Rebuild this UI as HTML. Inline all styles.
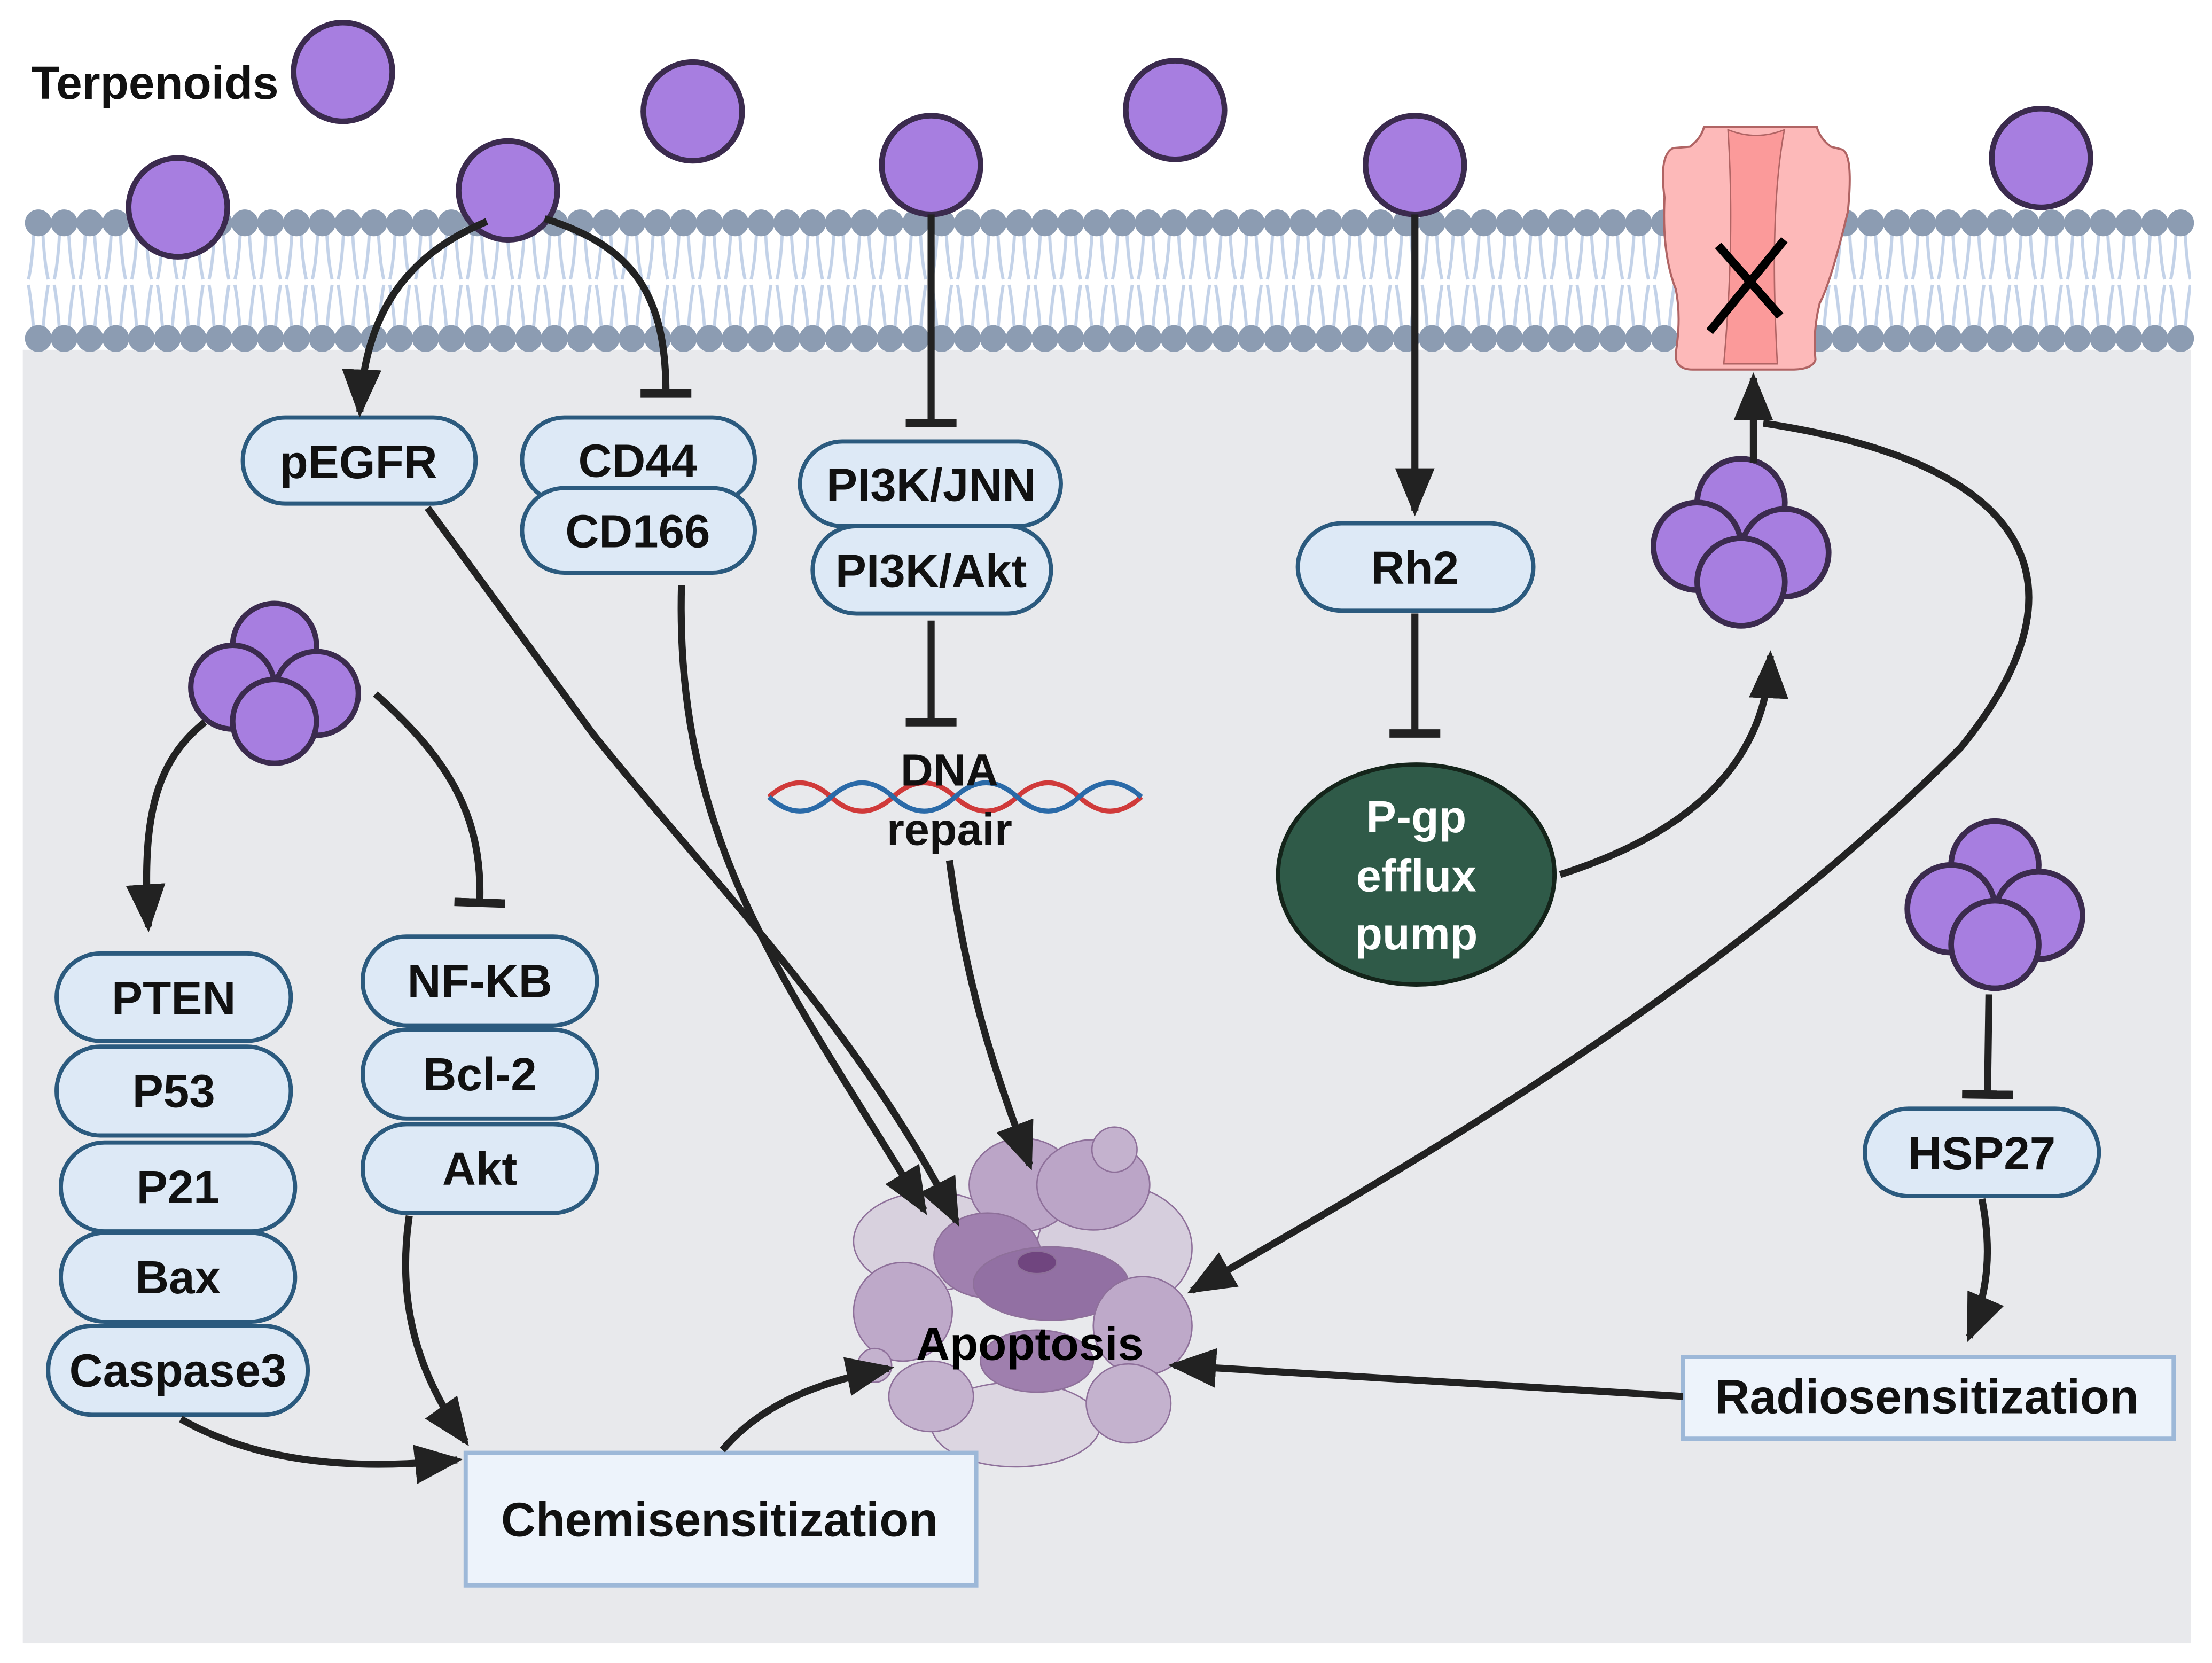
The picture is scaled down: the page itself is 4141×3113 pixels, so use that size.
<!DOCTYPE html>
<html><head><meta charset="utf-8"><style>html,body{margin:0;padding:0;background:#fff}svg{display:block}</style></head>
<body>
<svg xmlns="http://www.w3.org/2000/svg" width="4141" height="3113" viewBox="0 0 1568 1179" font-family="Liberation Sans, sans-serif" font-weight="bold">
<defs>
<marker id="ar" markerUnits="userSpaceOnUse" markerWidth="34" markerHeight="34" viewBox="0 0 34 34" refX="30" refY="17" orient="auto"><path d="M0,3 L34,17 L0,31 Z" fill="#222"/></marker>
<marker id="tb" markerUnits="userSpaceOnUse" markerWidth="10" markerHeight="40" viewBox="0 0 10 40" refX="3" refY="20" orient="auto"><rect x="0" y="2" width="6" height="36" fill="#222"/></marker>
<pattern id="mem" x="18" y="150" width="18.3" height="100" patternUnits="userSpaceOnUse">
<path d="M6,160 Q5,185 2,198 M12,160 Q13,185 16,198 M2,202 Q5,220 6,240 M16,202 Q13,220 12,240" transform="translate(0,-150)" stroke="#c3d2e8" stroke-width="2.2" fill="none"/>
</pattern>
<g id="cl"><circle cx="-5" cy="-25" r="27"/><circle cx="-32" cy="2" r="27"/><circle cx="22" cy="6" r="27"/><circle cx="-5" cy="24" r="27"/></g>
<g id="hrow" fill="#8c9cb2">
<circle cx="27" cy="0" r="9.5"/><circle cx="45.3" cy="0" r="9.5"/><circle cx="63.6" cy="0" r="9.5"/><circle cx="81.9" cy="0" r="9.5"/><circle cx="100.2" cy="0" r="9.5"/><circle cx="118.5" cy="0" r="9.5"/><circle cx="136.8" cy="0" r="9.5"/><circle cx="155.1" cy="0" r="9.5"/><circle cx="173.4" cy="0" r="9.5"/><circle cx="191.7" cy="0" r="9.5"/>
<circle cx="210" cy="0" r="9.5"/><circle cx="228.3" cy="0" r="9.5"/><circle cx="246.6" cy="0" r="9.5"/><circle cx="264.9" cy="0" r="9.5"/><circle cx="283.2" cy="0" r="9.5"/><circle cx="301.5" cy="0" r="9.5"/><circle cx="319.8" cy="0" r="9.5"/><circle cx="338.1" cy="0" r="9.5"/><circle cx="356.4" cy="0" r="9.5"/><circle cx="374.7" cy="0" r="9.5"/>
<circle cx="393" cy="0" r="9.5"/><circle cx="411.3" cy="0" r="9.5"/><circle cx="429.6" cy="0" r="9.5"/><circle cx="447.9" cy="0" r="9.5"/><circle cx="466.2" cy="0" r="9.5"/><circle cx="484.5" cy="0" r="9.5"/><circle cx="502.8" cy="0" r="9.5"/><circle cx="521.1" cy="0" r="9.5"/><circle cx="539.4" cy="0" r="9.5"/><circle cx="557.7" cy="0" r="9.5"/>
<circle cx="576" cy="0" r="9.5"/><circle cx="594.3" cy="0" r="9.5"/><circle cx="612.6" cy="0" r="9.5"/><circle cx="630.9" cy="0" r="9.5"/><circle cx="649.2" cy="0" r="9.5"/><circle cx="667.5" cy="0" r="9.5"/><circle cx="685.8" cy="0" r="9.5"/><circle cx="704.1" cy="0" r="9.5"/><circle cx="722.4" cy="0" r="9.5"/><circle cx="740.7" cy="0" r="9.5"/>
<circle cx="759" cy="0" r="9.5"/><circle cx="777.3" cy="0" r="9.5"/><circle cx="795.6" cy="0" r="9.5"/><circle cx="813.9" cy="0" r="9.5"/><circle cx="832.2" cy="0" r="9.5"/><circle cx="850.5" cy="0" r="9.5"/><circle cx="868.8" cy="0" r="9.5"/><circle cx="887.1" cy="0" r="9.5"/><circle cx="905.4" cy="0" r="9.5"/><circle cx="923.7" cy="0" r="9.5"/>
<circle cx="942" cy="0" r="9.5"/><circle cx="960.3" cy="0" r="9.5"/><circle cx="978.6" cy="0" r="9.5"/><circle cx="996.9" cy="0" r="9.5"/><circle cx="1015.2" cy="0" r="9.5"/><circle cx="1033.5" cy="0" r="9.5"/><circle cx="1051.8" cy="0" r="9.5"/><circle cx="1070.1" cy="0" r="9.5"/><circle cx="1088.4" cy="0" r="9.5"/><circle cx="1106.7" cy="0" r="9.5"/>
<circle cx="1125" cy="0" r="9.5"/><circle cx="1143.3" cy="0" r="9.5"/><circle cx="1161.6" cy="0" r="9.5"/><circle cx="1179.9" cy="0" r="9.5"/><circle cx="1198.2" cy="0" r="9.5"/><circle cx="1216.5" cy="0" r="9.5"/><circle cx="1234.8" cy="0" r="9.5"/><circle cx="1253.1" cy="0" r="9.5"/><circle cx="1271.4" cy="0" r="9.5"/><circle cx="1289.7" cy="0" r="9.5"/>
<circle cx="1308" cy="0" r="9.5"/><circle cx="1326.3" cy="0" r="9.5"/><circle cx="1344.6" cy="0" r="9.5"/><circle cx="1362.9" cy="0" r="9.5"/><circle cx="1381.2" cy="0" r="9.5"/><circle cx="1399.5" cy="0" r="9.5"/><circle cx="1417.8" cy="0" r="9.5"/><circle cx="1436.1" cy="0" r="9.5"/><circle cx="1454.4" cy="0" r="9.5"/><circle cx="1472.7" cy="0" r="9.5"/>
<circle cx="1491" cy="0" r="9.5"/><circle cx="1509.3" cy="0" r="9.5"/><circle cx="1527.6" cy="0" r="9.5"/><circle cx="1545.9" cy="0" r="9.5"/>
</g>
</defs>
<rect width="1568" height="1179" fill="#fff"/>
<rect x="16" y="248" width="1537" height="917" fill="#e8e9ec"/>
<rect x="18" y="160" width="1535" height="82" fill="url(#mem)"/>
<use href="#hrow" y="158"/>
<use href="#hrow" y="240"/>
<g stroke="#b06464" stroke-width="1.5">
<path d="M1180,140 Q1176,110 1186,105 L1198,104 Q1206,98 1208,90 L1288,90 Q1290,98 1298,104 L1306,106 Q1314,110 1310,150 Q1298,200 1290,215 Q1285,235 1287,255 Q1285,262 1270,262 L1200,262 Q1187,262 1188,250 Q1192,225 1188,205 Q1178,180 1180,140 Z" fill="#fdb9b9"/>
<path d="M1225,92 Q1245,100 1265,92 Q1254,150 1260,258 L1222,258 Q1230,170 1225,92 Z" fill="#fb9a9a" stroke-width="1"/>
</g>
<path d="M1212,235 L1265,170 M1218,174 L1262,224" stroke="#000" stroke-width="6"/>
<g fill="#a77ee0" stroke="#3b2b4e" stroke-width="4">
<circle cx="243" cy="51" r="35"/><circle cx="126" cy="147" r="35"/><circle cx="360" cy="135" r="35"/><circle cx="491" cy="79" r="35"/><circle cx="660" cy="117" r="35"/><circle cx="833" cy="78" r="35"/><circle cx="1003" cy="117" r="35"/><circle cx="1447" cy="112" r="35"/>
<use href="#cl" transform="translate(1240,385) scale(1.15)" stroke-width="3.5"/>
<use href="#cl" transform="translate(200,485) scale(1.1)" stroke-width="3.5"/>
<use href="#cl" transform="translate(1420,642) scale(1.15)" stroke-width="3.5"/>
</g>
<text x="22" y="70" font-size="33" fill="#111">Terpenoids</text>
<g stroke="#8a6a96" stroke-width="1" opacity="0.95">
<ellipse cx="660" cy="880" rx="55" ry="35" fill="#d8d0de"/>
<ellipse cx="790" cy="885" rx="55" ry="45" fill="#d6cddd"/>
<ellipse cx="720" cy="1010" rx="60" ry="30" fill="#dcd5e1"/>
<ellipse cx="725" cy="840" rx="38" ry="33" fill="#b9a2c6"/>
<ellipse cx="775" cy="840" rx="40" ry="32" fill="#b9a2c6"/>
<ellipse cx="700" cy="890" rx="38" ry="30" fill="#9d7bac"/>
<ellipse cx="745" cy="910" rx="55" ry="26" fill="#8e6aa0"/>
<ellipse cx="640" cy="930" rx="35" ry="35" fill="#bca6c8"/>
<ellipse cx="810" cy="940" rx="35" ry="35" fill="#bca6c8"/>
<ellipse cx="660" cy="990" rx="30" ry="25" fill="#c3b0cd"/>
<ellipse cx="800" cy="995" rx="30" ry="28" fill="#c3b0cd"/>
<ellipse cx="735" cy="965" rx="40" ry="22" fill="#9c7aab"/>
<ellipse cx="735" cy="895" rx="14" ry="8" fill="#6a3d7a"/>
<circle cx="620" cy="968" r="12" fill="#c3b0cd"/>
<circle cx="790" cy="815" r="16" fill="#c3b0cd"/>
</g>
<text x="730" y="964" font-size="33" text-anchor="middle" fill="#000">Apoptosis</text>
<path d="M545,565 q22,-20 44,0 t44,0 t44,0 t44,0 t44,0 t44,0" stroke="#d03a3a" stroke-width="3.5" fill="none"/>
<path d="M545,565 q22,20 44,0 t44,0 t44,0 t44,0 t44,0 t44,0" stroke="#2a6aa8" stroke-width="3.5" fill="none"/>
<text x="673" y="557" font-size="32" text-anchor="middle" fill="#111">DNA</text>
<text x="673" y="599" font-size="32" text-anchor="middle" fill="#111">repair</text>
<g fill="#dde9f6" stroke="#2b5a7e" stroke-width="3">
<rect x="172" y="296" width="165" height="61" rx="30"/>
<rect x="370" y="296" width="165" height="60" rx="30"/>
<rect x="370" y="346" width="165" height="60" rx="30"/>
<rect x="567" y="313" width="185" height="60" rx="30"/>
<rect x="576" y="373" width="169" height="62" rx="31"/>
<rect x="920" y="371" width="167" height="62" rx="31"/>
<rect x="40" y="676" width="166" height="62" rx="31"/>
<rect x="40" y="742" width="166" height="63" rx="31"/>
<rect x="43" y="810" width="166" height="63" rx="31"/>
<rect x="43" y="874" width="166" height="63" rx="31"/>
<rect x="34" y="940" width="184" height="63" rx="31"/>
<rect x="257" y="664" width="166" height="63" rx="31"/>
<rect x="257" y="730" width="166" height="63" rx="31"/>
<rect x="257" y="797" width="166" height="63" rx="31"/>
<rect x="1322" y="786" width="166" height="62" rx="31"/>
</g>
<g font-size="33" text-anchor="middle" fill="#111">
<text x="254" y="339">pEGFR</text>
<text x="452" y="338">CD44</text>
<text x="452" y="388">CD166</text>
<text x="660" y="355">PI3K/JNN</text>
<text x="660" y="416">PI3K/Akt</text>
<text x="1003" y="414">Rh2</text>
<text x="123" y="719">PTEN</text>
<text x="123" y="785">P53</text>
<text x="126" y="853">P21</text>
<text x="126" y="917">Bax</text>
<text x="126" y="983">Caspase3</text>
<text x="340" y="707">NF-KB</text>
<text x="340" y="773">Bcl-2</text>
<text x="340" y="840">Akt</text>
<text x="1405" y="829">HSP27</text>
</g>
<rect x="330" y="1030" width="362" height="94" fill="#edf3fb" stroke="#9db8d8" stroke-width="3"/>
<text x="510" y="1089" font-size="34" text-anchor="middle" fill="#111">Chemisensitization</text>
<rect x="1193" y="962" width="348" height="58" fill="#edf3fb" stroke="#9db8d8" stroke-width="3"/>
<text x="1366" y="1002" font-size="34" text-anchor="middle" fill="#111">Radiosensitization</text>
<ellipse cx="1004" cy="620" rx="98" ry="78" fill="#2f5a48" stroke="#14241a" stroke-width="3"/>
<g font-size="32" text-anchor="middle" fill="#fff">
<text x="1004" y="590">P-gp</text>
<text x="1004" y="632">efflux</text>
<text x="1004" y="673">pump</text>
</g>
<g stroke="#222" stroke-width="5" fill="none">
<path d="M345,157 C290,180 258,220 255,292" marker-end="url(#ar)"/>
<path d="M386,155 C450,175 472,210 472,279" marker-end="url(#tb)"/>
<path d="M660,152 L660,300" marker-end="url(#tb)"/>
<path d="M1003,152 L1003,362" marker-end="url(#ar)"/>
<path d="M1003,435 L1003,520" marker-end="url(#tb)"/>
<path d="M660,440 L660,512" marker-end="url(#tb)"/>
<path d="M303,360 L420,520 C500,620 610,730 678,866" marker-end="url(#ar)"/>
<path d="M483,415 C478,600 560,700 655,858" marker-end="url(#ar)"/>
<path d="M673,610 C685,700 705,760 730,826" marker-end="url(#ar)"/>
<path d="M1106,620 C1200,590 1252,540 1255,465" marker-end="url(#ar)"/>
<path d="M1243,328 L1243,268" marker-end="url(#ar)"/>
<path d="M1250,300 C1450,330 1480,420 1390,530 C1220,700 1010,820 845,915" marker-end="url(#ar)"/>
<path d="M145,512 C110,540 100,580 105,657" marker-end="url(#ar)"/>
<path d="M266,492 C320,540 342,580 340,640" marker-end="url(#tb)"/>
<path d="M290,862 C280,930 300,980 330,1022" marker-end="url(#ar)"/>
<path d="M128,1006 C170,1030 230,1045 324,1035" marker-end="url(#ar)"/>
<path d="M512,1028 C540,995 580,980 630,970" marker-end="url(#ar)"/>
<path d="M1193,990 L832,968" marker-end="url(#ar)"/>
<path d="M1410,705 L1409,776" marker-end="url(#tb)"/>
<path d="M1405,850 C1412,885 1410,915 1396,948" marker-end="url(#ar)"/>
</g>
</svg>
</body></html>
